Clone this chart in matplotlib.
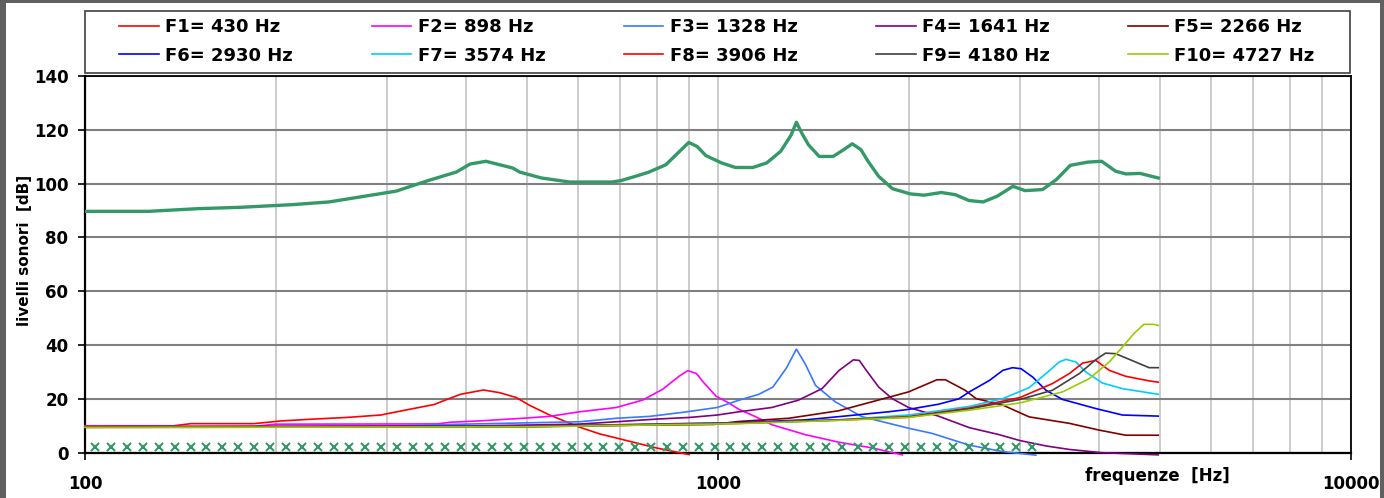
import matplotlib
matplotlib.use("Agg")
import matplotlib.pyplot as plt
from matplotlib.patches import Rectangle
from matplotlib.ticker import LogLocator, NullFormatter

# filter responses, frequency [Hz] -> level [dB]
f1_hz = [100, 138, 147, 185, 204, 230, 259, 293, 330, 356, 377, 392, 426, 452, 480, 504, 542, 604, 650, 698, 798, 900]
f1_db = [10.0, 10.0, 10.8, 10.8, 11.8, 12.5, 13.1, 14.0, 16.4, 17.9, 20.2, 21.7, 23.3, 22.3, 20.5, 17.6, 14.0, 9.5, 7.0, 5.2, 1.8, -0.7]

f2_hz = [100, 185, 200, 360, 377, 426, 492, 542, 604, 691, 761, 818, 869, 896, 925, 945, 993, 1040, 1079, 1146, 1216, 1374, 1552, 1750, 1955]
f2_db = [9.8, 9.8, 10.6, 10.7, 11.3, 11.9, 12.8, 13.5, 15.2, 16.8, 19.6, 23.6, 28.5, 30.5, 29.4, 26.6, 21.0, 18.5, 16.1, 13.4, 10.4, 6.7, 3.9, 1.8, -0.8]

f3_hz = [100, 300, 377, 604, 691, 780, 880, 997, 1079, 1160, 1221, 1282, 1330, 1374, 1426, 1532, 1688, 2000, 2177, 2495, 2818, 3178]
f3_db = [9.6, 9.8, 10.5, 11.5, 12.8, 13.5, 15.0, 16.8, 19.5, 21.7, 24.4, 31.4, 38.5, 32.9, 25.0, 18.9, 13.4, 9.1, 7.2, 2.8, 0.4, -0.9]

f4_hz = [100, 400, 600, 691, 800, 901, 997, 1079, 1216, 1339, 1460, 1552, 1636, 1672, 1709, 1794, 1884, 2000, 2229, 2495, 2771, 3000, 3300, 3592, 4044, 4960]
f4_db = [9.6, 9.9, 10.6, 11.5, 12.5, 13.1, 14.0, 15.2, 16.8, 19.5, 23.8, 30.5, 34.5, 34.3, 31.1, 24.4, 20.1, 16.8, 13.6, 9.3, 6.8, 4.5, 2.5, 1.2, 0.0, -0.8]

f5_hz = [100, 500, 984, 1079, 1294, 1552, 1750, 2000, 2217, 2287, 2457, 2557, 2818, 3102, 3592, 4000, 4406, 4960]
f5_db = [9.6, 9.8, 10.5, 11.6, 12.8, 15.6, 18.9, 22.6, 27.1, 27.1, 23.2, 20.1, 17.7, 13.3, 10.9, 8.4, 6.5, 6.5]

f6_hz = [100, 500, 1079, 1374, 1552, 1859, 2000, 2229, 2400, 2495, 2686, 2818, 2919, 3012, 3142, 3297, 3501, 3953, 4355, 4960]
f6_db = [9.5, 9.8, 11.2, 12.2, 13.4, 15.2, 16.1, 18.0, 20.0, 22.6, 26.9, 30.6, 31.6, 31.2, 28.1, 23.2, 19.8, 16.4, 14.0, 13.6]

f7_hz = [100, 500, 1079, 1552, 2000, 2495, 2818, 3102, 3297, 3459, 3546, 3676, 3812, 4048, 4355, 4960]
f7_db = [9.5, 9.7, 11.0, 12.2, 14.0, 17.2, 20.1, 24.2, 29.4, 33.7, 34.7, 33.7, 30.0, 25.9, 23.8, 21.7]

f8_hz = [100, 500, 1079, 1552, 2000, 2495, 3000, 3376, 3589, 3768, 3953, 4150, 4406, 4797, 4960]
f8_db = [9.5, 9.7, 11.0, 12.2, 13.4, 16.6, 20.5, 25.7, 29.4, 33.3, 34.3, 30.6, 28.4, 26.7, 26.2]

f9_hz = [100, 500, 1079, 1552, 2000, 2495, 3000, 3376, 3722, 3953, 4095, 4247, 4569, 4797, 4960]
f9_db = [9.4, 9.6, 10.9, 12.1, 13.2, 16.3, 19.8, 23.2, 29.4, 34.6, 37.0, 36.8, 33.7, 31.6, 31.6]

f10_hz = [100, 500, 1079, 1552, 2000, 2495, 3000, 3501, 3858, 4150, 4355, 4537, 4706, 4884, 4960]
f10_db = [9.4, 9.6, 10.8, 12.0, 13.1, 15.8, 18.5, 22.6, 27.5, 33.7, 39.3, 44.2, 47.7, 47.7, 47.3]

# overall level
tot_hz = [100, 126, 151, 176, 213, 243, 310, 348, 386, 406, 430, 474, 486, 526, 583, 680, 702, 740, 776, 827,
          899, 927, 957, 1013, 1065, 1135, 1194, 1256, 1305, 1330, 1356, 1390, 1445, 1520, 1579, 1630, 1682, 1726,
          1794, 1887, 2011, 2115, 2253, 2370, 2493, 2623, 2760, 2923, 3055, 3257, 3424, 3602, 3839, 4038, 4248,
          4412, 4642, 4960]
tot_db = [89.7, 89.7, 90.7, 91.2, 92.2, 93.2, 97.2, 101.1, 104.3, 107.3, 108.3, 105.8, 104.3, 102.1, 100.6, 100.6, 101.1, 102.7, 104.2, 107.0,
          115.3, 113.8, 110.4, 107.7, 106.0, 106.0, 107.7, 112.0, 118.1, 122.8, 118.8, 114.4, 110.1, 110.1, 112.6, 114.8, 112.6, 108.3,
          102.7, 98.1, 96.2, 95.7, 96.7, 95.9, 93.7, 93.2, 95.3, 99.0, 97.4, 97.8, 101.5, 106.8, 108.0, 108.3, 104.6,
          103.6, 103.8, 102.1]

# band centres (semitones) marked along the bottom
band_hz = [103.83, 110.0, 116.54, 123.47, 130.81, 138.59, 146.83, 155.56, 164.81, 174.61,
           185.0, 196.0, 207.65, 220.0, 233.08, 246.94, 261.63, 277.18, 293.66, 311.13,
           329.63, 349.23, 369.99, 392.0, 415.3, 440.0, 466.16, 493.88, 523.25, 554.37,
           587.33, 622.25, 659.26, 698.46, 739.99, 783.99, 830.61, 880.0, 932.33, 987.77,
           1046.5, 1108.7, 1174.7, 1244.5, 1318.5, 1396.9, 1480.0, 1568.0, 1661.2, 1760.0,
           1864.7, 1975.5, 2093.0, 2217.5, 2349.3, 2489.0, 2637.0, 2793.8, 2960.0, 3136.0]
band_db = 2.0

labels = ["F1= 430 Hz", "F2= 898 Hz", "F3= 1328 Hz", "F4= 1641 Hz", "F5= 2266 Hz",
          "F6= 2930 Hz", "F7= 3574 Hz", "F8= 3906 Hz", "F9= 4180 Hz", "F10= 4727 Hz"]
colors = ["#ff0000", "#ff00ff", "#3a78ff", "#800080", "#800000",
          "#0000ff", "#00ccff", "#ff0000", "#404040", "#99cc00"]
series = [(f1_hz, f1_db), (f2_hz, f2_db), (f3_hz, f3_db), (f4_hz, f4_db), (f5_hz, f5_db),
          (f6_hz, f6_db), (f7_hz, f7_db), (f8_hz, f8_db), (f9_hz, f9_db), (f10_hz, f10_db)]

W, H = 1384, 498
fig = plt.figure(figsize=(W / 100, H / 100), dpi=100, facecolor="#606060")
# white sheet inside the grey border
fig.patches.append(Rectangle((6 / W, 0), (1380 - 6) / W, (H - 3) / H, transform=fig.transFigure,
                             facecolor="white", edgecolor="none", zorder=-10))

ax = fig.add_axes([85 / W, (H - 452.7) / H, (1351 - 85) / W, (452.7 - 76) / H])
ax.set_facecolor("white")
ax.set_xscale("log")
ax.set_xlim(100, 10000)
ax.set_ylim(0, 140)

ax.set_xticks([100, 1000, 10000])
ax.set_xticklabels(["100", "1000", "10000"])
ax.xaxis.set_minor_locator(LogLocator(base=10, subs=range(2, 10)))
ax.xaxis.set_minor_formatter(NullFormatter())
ax.set_yticks(range(0, 141, 20))

ax.set_axisbelow(True)
ax.yaxis.grid(True, color="#808080", lw=1.5)
ax.xaxis.grid(True, which="both", color="#c8c8c8", lw=1.3)

ax.tick_params(axis="x", which="major", direction="out", length=5, width=1.2, pad=11)
ax.tick_params(axis="x", which="minor", length=0)
ax.tick_params(axis="y", direction="out", length=5, width=1.2, pad=7)
for lab in ax.get_xticklabels() + ax.get_yticklabels():
    lab.set_fontsize(12)
    lab.set_fontweight("bold")
for side in ["left", "bottom", "top", "right"]:
    ax.spines[side].set_color("black")
    ax.spines[side].set_linewidth(1.3)
ax.spines["left"].set_linewidth(1.6)
ax.spines["bottom"].set_linewidth(1.6)

handles = []
for (hz, db), col, lab in zip(series, colors, labels):
    h, = ax.plot(hz, db, color=col, lw=1.2, label=lab, clip_on=False, zorder=3)
    handles.append(h)

ax.plot(tot_hz, tot_db, color="#339966", lw=2.4, zorder=4)
ax.plot(band_hz, [band_db] * len(band_hz), ls="none", marker="x", ms=6, mew=1.5,
        color="#339966", zorder=4)

# legend filled column-wise, so reorder to get F1..F5 on the first row
order = [0, 5, 1, 6, 2, 7, 3, 8, 4, 9]
leg = fig.legend([handles[i] for i in order], [labels[i] for i in order],
                 loc="upper left", bbox_to_anchor=(114 / W, 1 - 13 / H, (1320 - 114) / W, 0.0),
                 mode="expand", ncol=5, frameon=False,
                 prop={"family": "DejaVu Sans", "weight": "bold", "size": 13},
                 handlelength=2.2, handletextpad=0.35, labelspacing=0.56,
                 borderpad=0.3, borderaxespad=0)
# legend box
fig.patches.append(Rectangle((85 / W, 1 - 73 / H), (1350 - 85) / W, 62 / H, transform=fig.transFigure,
                             facecolor="none", edgecolor="#404040", lw=1.2))

fig.text(25 / W, 1 - 250 / H, "livelli sonori  [dB]", rotation=90, ha="center", va="center",
         fontsize=11, fontweight="bold")
fig.text(1157 / W, 1 - 476 / H, "frequenze  [Hz]", ha="center", va="center",
         fontsize=12, fontweight="bold")

fig.savefig("out.png", dpi=100, facecolor=fig.get_facecolor())
